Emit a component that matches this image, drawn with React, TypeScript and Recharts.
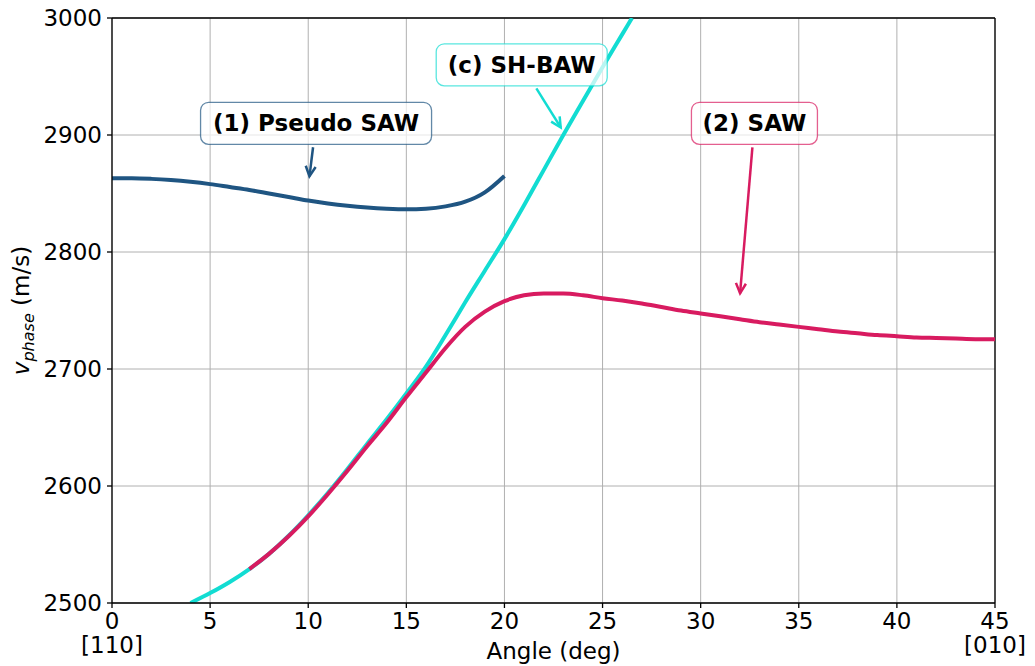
import React from 'react';
import { LineChart, Line, XAxis, YAxis, CartesianGrid, ReferenceLine, Label } from 'recharts';

// angle (deg) vs phase velocity (m/s)
const pseudoAngle = [0, 1, 2, 3, 4, 5, 6, 7, 8, 9, 10, 11, 12, 13, 14, 15, 16, 17, 18, 19, 20];
const pseudoSpeed = [2863, 2863, 2862.5, 2861.5, 2860, 2858, 2855.5, 2853, 2850, 2847, 2844, 2841.5, 2839.5, 2838, 2837, 2836.5, 2837, 2839, 2843, 2851, 2865];

const bawAngle = [4, 5, 6, 7, 8, 9, 10, 11, 12, 13, 14, 15, 16, 17, 18, 19, 20, 21, 22, 23, 24, 25, 26, 26.5];
const bawSpeed = [2500, 2508.5, 2518, 2529, 2542, 2557.5, 2575, 2594, 2614.5, 2636, 2657, 2679, 2702, 2729, 2757, 2784, 2811, 2840, 2870, 2900, 2929, 2958, 2986, 3000];

const sawAngle = [7, 8, 9, 10, 11, 12, 13, 14, 15, 16, 17, 18, 19, 20, 21, 22, 23, 24, 25, 26, 27, 28, 29, 30, 31, 32, 33, 34, 35, 36, 37, 38, 39, 40, 41, 42, 43, 44, 45];
const sawSpeed = [2529, 2542, 2557, 2574, 2593, 2613, 2634, 2654, 2676, 2697, 2718, 2736, 2749, 2758, 2763, 2764.5, 2764.5, 2763, 2760.5, 2758.5, 2756, 2753, 2750, 2747.5, 2745, 2742.5, 2740, 2738, 2736, 2734, 2732, 2730.5, 2729, 2728, 2727, 2726.5, 2726, 2725.5, 2725.5];

const xTicks = [0, 5, 10, 15, 20, 25, 30, 35, 40, 45];
const yTicks = [2500, 2600, 2700, 2800, 2900, 3000];
const xTickExtra: Record<number, string> = { 0: '[110]', 45: '[010]' };

const C_PSEUDO = '#1f5582';
const C_BAW = '#12dcd2';
const C_SAW = '#d81b60';

const noteLabels = ['(1) Pseudo SAW', '(c) SH-BAW', '(2) SAW'];
const noteText: [number, number][] = [[10.4, 2910], [20.88, 2960], [32.74, 2910]];
const noteTip: [number, number][] = [[10.05, 2863], [22.92, 2905], [32.0, 2763]];
const noteColors = [C_PSEUDO, C_BAW, C_SAW];
const noteWidths = [231, 171, 126];

const toPts = (xs: number[], ys: number[]) => xs.map((a, i) => ({ angle: a, v: ys[i] }));

const FONT = '"DejaVu Sans", sans-serif';

const XTick = (props: any) => {
  const { x, y, payload } = props;
  const extra = xTickExtra[payload.value];
  return (
    <g>
      <text x={x} y={y + 19} textAnchor="middle" fontSize={23} fontFamily={FONT} fill="#000">
        {payload.value}
      </text>
      {extra && (
        <text x={x} y={y + 43} textAnchor="middle" fontSize={23} fontFamily={FONT} fill="#000">
          {extra}
        </text>
      )}
    </g>
  );
};

const makeNote = (i: number) => (props: any) => {
  const { x1, y1, x2, y2 } = props;
  const w = noteWidths[i];
  const h = 42;
  const color = noteColors[i];
  const dx = x2 - x1;
  const dy = y2 - y1;
  const len = Math.sqrt(dx * dx + dy * dy);
  const ux = dx / len;
  const uy = dy / len;
  const t = Math.min(Math.abs(dx) > 0.01 ? w / 2 / Math.abs(dx) : 1e9, Math.abs(dy) > 0.01 ? h / 2 / Math.abs(dy) : 1e9);
  const sx = x1 + dx * t + ux * 3;
  const sy = y1 + dy * t + uy * 3;
  const ex = x2 - ux * 2;
  const ey = y2 - uy * 2;
  const hl = 10;
  const hw = 5;
  const bx = ex - ux * hl;
  const by = ey - uy * hl;
  return (
    <g>
      <line x1={sx} y1={sy} x2={ex} y2={ey} stroke={color} strokeWidth={2.5} />
      <polyline
        points={`${bx - uy * hw},${by + ux * hw} ${ex},${ey} ${bx + uy * hw},${by - ux * hw}`}
        fill="none"
        stroke={color}
        strokeWidth={2.5}
      />
      <rect
        x={x1 - w / 2}
        y={y1 - h / 2}
        width={w}
        height={h}
        rx={8}
        ry={8}
        fill="#fff"
        fillOpacity={0.7}
        stroke={color}
        strokeOpacity={0.7}
        strokeWidth={1.3}
      />
      <text x={x1} y={y1 + 8} textAnchor="middle" fontSize={23} fontWeight="bold" fontFamily={FONT} fill="#000">
        {noteLabels[i]}
      </text>
    </g>
  );
};

const xLabel = (props: any) => {
  const vb = props.viewBox;
  return (
    <text x={vb.x + vb.width / 2} y={vb.y + 56} textAnchor="middle" fontSize={23} fontFamily={FONT} fill="#000">
      Angle (deg)
    </text>
  );
};

const yLabel = (props: any) => {
  const vb = props.viewBox;
  const cy = vb.y + vb.height / 2;
  return (
    <text
      x={29}
      y={cy}
      transform={`rotate(-90 29 ${cy})`}
      textAnchor="middle"
      fontSize={23}
      fontFamily={FONT}
      fill="#000"
    >
      <tspan fontStyle="italic">v</tspan>
      <tspan fontStyle="italic" fontSize={16} dy={5}>phase</tspan>
      <tspan dy={-5}> (m/s)</tspan>
    </text>
  );
};

export default function App() {
  return (
    <div style={{ position: 'absolute', left: 0, top: 0, width: 1035, height: 666, background: '#fff' }}>
      <LineChart width={1035} height={666} margin={{ top: 18, right: 40, left: 0, bottom: 0 }}>
        <CartesianGrid stroke="#b0b0b0" strokeWidth={1} />
        <XAxis
          type="number"
          dataKey="angle"
          domain={[0, 45]}
          ticks={xTicks}
          allowDataOverflow
          height={63}
          tickSize={5}
          tick={<XTick />}
          stroke="#000"
          axisLine={{ stroke: '#000', strokeWidth: 1.3 }}
          tickLine={{ stroke: '#000', strokeWidth: 1.3 }}
        >
          <Label content={xLabel} />
        </XAxis>
        <YAxis
          type="number"
          domain={[2500, 3000]}
          ticks={yTicks}
          allowDataOverflow
          width={112}
          tickSize={5}
          tickMargin={5}
          tick={{ fontSize: 23, fontFamily: FONT, fill: '#000' }}
          stroke="#000"
          axisLine={{ stroke: '#000', strokeWidth: 1.3 }}
          tickLine={{ stroke: '#000', strokeWidth: 1.3 }}
        >
          <Label content={yLabel} />
        </YAxis>
        <ReferenceLine y={3000} stroke="#000" strokeWidth={1.3} />
        <ReferenceLine x={45} stroke="#000" strokeWidth={1.3} />
        <Line data={toPts(pseudoAngle, pseudoSpeed)} dataKey="v" type="monotone" stroke={C_PSEUDO} strokeWidth={4} dot={false} isAnimationActive={false} />
        <Line data={toPts(bawAngle, bawSpeed)} dataKey="v" type="monotone" stroke={C_BAW} strokeWidth={4} dot={false} isAnimationActive={false} />
        <Line data={toPts(sawAngle, sawSpeed)} dataKey="v" type="monotone" stroke={C_SAW} strokeWidth={4} dot={false} isAnimationActive={false} />
        {noteLabels.map((_, i) => (
          <ReferenceLine
            key={i}
            segment={[
              { x: noteText[i][0], y: noteText[i][1] },
              { x: noteTip[i][0], y: noteTip[i][1] },
            ]}
            ifOverflow="visible"
            shape={makeNote(i)}
            zIndex={2000}
          />
        ))}
      </LineChart>
    </div>
  );
}
